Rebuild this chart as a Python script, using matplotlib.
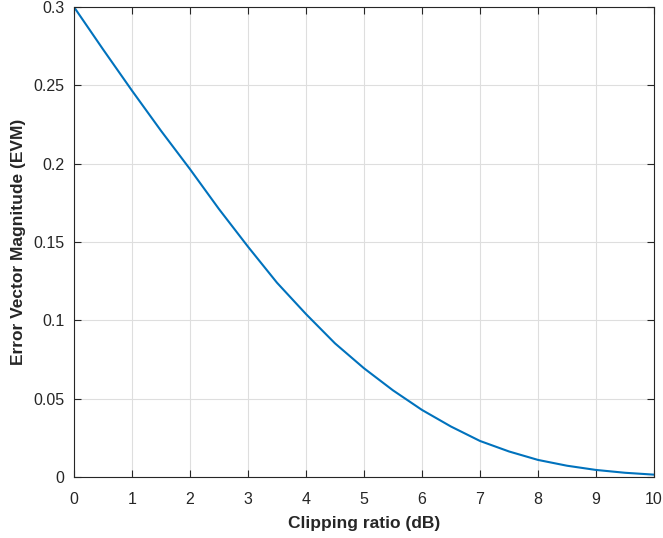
import matplotlib
matplotlib.use('Agg')
import matplotlib.pyplot as plt
import numpy as np

plt.rcParams['font.family'] = ['Liberation Sans', 'DejaVu Sans']

# clipping ratio (dB) and EVM
clip_db = [0, 0.5, 1, 1.5, 2, 2.5, 3, 3.5, 4, 4.5, 5,
           5.5, 6, 6.5, 7, 7.5, 8, 8.5, 9, 9.5, 10]
evm = [0.300, 0.273, 0.2466, 0.221, 0.1965, 0.171, 0.147, 0.124, 0.104, 0.0853, 0.0694,
       0.0553, 0.0428, 0.0322, 0.0230, 0.0163, 0.0109, 0.0072, 0.0045, 0.0027, 0.0015]
xticks = list(range(0, 11))
yticks = [0, 0.05, 0.1, 0.15, 0.2, 0.25, 0.3]
ytick_labels = ['0', '0.05', '0.1', '0.15', '0.2', '0.25', '0.3']

fig = plt.figure(figsize=(6.63, 5.38), dpi=100)
ax = fig.add_axes([74/663, 61/538, 580/663, 470/538])

ax.plot(clip_db, evm, color='#0072BD', linewidth=1.5)

ax.set_xlim(0, 10)
ax.set_ylim(0, 0.3)
ax.set_xticks(xticks)
ax.set_xticklabels([str(t) for t in xticks])
ax.set_yticks(yticks)
ax.set_yticklabels(ytick_labels)
ax.grid(True, color='#dedede', linewidth=0.8)
ax.set_axisbelow(True)

for s in ax.spines.values():
    s.set_color('#262626')
    s.set_linewidth(0.8)
ax.tick_params(direction='in', top=True, right=True, length=5, width=0.8,
               colors='#262626', labelsize=11.5)
ax.tick_params(axis='x', pad=11)
ax.tick_params(axis='y', pad=7)

ax.set_xlabel('Clipping ratio (dB)', fontsize=12.5, fontweight='bold', color='#262626', labelpad=6)
ax.set_ylabel('Error Vector Magnitude (EVM)', fontsize=12.5, fontweight='bold', color='#262626', labelpad=5)

fig.savefig('out.png', dpi=100)
